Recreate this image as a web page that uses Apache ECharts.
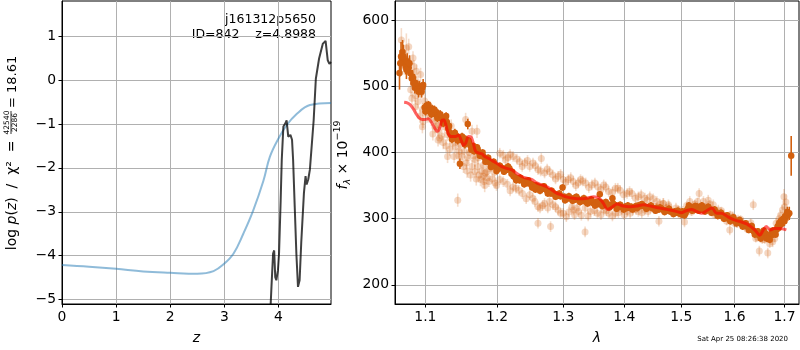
<!DOCTYPE html>
<html><head><meta charset="utf-8">
<script src="https://cdn.jsdelivr.net/npm/echarts@6/dist/echarts.min.js"></script>
<style>html,body{margin:0;padding:0;background:#fff}#c{width:800px;height:350px}</style>
</head><body><div id="c"></div>
<script>
// ---------- Left panel: redshift ----------
const zTicks = [0, 1, 2, 3, 4];
const logpTicks = [-5, -4, -3, -2, -1, 0, 1];
// [z, value] prior curve (blue)
const zPrior = [[0,-4.21],[0.5,-4.25],[1,-4.30],[1.5,-4.36],[2,-4.39],[2.5,-4.41],[2.8,-4.35],[3.0,-4.18],[3.17,-3.95],[3.35,-3.5],[3.53,-2.98],[3.72,-2.3],[3.84,-1.75],[4.0,-1.33],[4.15,-1.03],[4.33,-0.78],[4.58,-0.57],[4.97,-0.52]];
// [z, log p(z)] (dark)
const zLogp = [[3.83,-5.8],[3.87,-4.71],[3.90,-3.95],[3.92,-3.88],[3.94,-4.49],[3.96,-4.56],[3.99,-4.33],[4.01,-3.95],[4.04,-2.74],[4.06,-1.82],[4.09,-1.06],[4.13,-0.98],[4.15,-0.92],[4.18,-1.29],[4.22,-1.25],[4.25,-1.36],[4.27,-1.82],[4.30,-2.89],[4.33,-3.95],[4.36,-4.71],[4.39,-4.56],[4.42,-3.71],[4.47,-2.57],[4.50,-2.19],[4.52,-2.38],[4.55,-2.26],[4.58,-2.04],[4.61,-2.04],[4.65,-0.91],[4.69,0.03],[4.71,0.07],[4.75,0.49],[4.78,0.52],[4.82,0.83],[4.87,0.89],[4.91,0.45],[4.94,0.37],[4.97,0.41]];

// ---------- Right panel: spectrum ----------
const lamTicks = [1.1, 1.2, 1.3, 1.4, 1.5, 1.6, 1.7];
const fluxTicks = [200, 300, 400, 500, 600];
// [lambda, flux, err] main (dark) points
const darkSpec = [[1.066,520,25],[1.068,545,22],[1.070,552,18],[1.072,540,15],[1.074,532,14],[1.076,538,12],[1.078,528,12],[1.080,520,10],[1.082,512,10],[1.084,505,10],[1.086,498,9],[1.088,500,9],[1.090,496,8],[1.092,500,8],[1.094,497,8],[1.096,498,8],
[1.067,535,20],[1.071,545,18],[1.075,525,14],[1.079,535,12],[1.083,515,10],[1.087,505,10],[1.091,492,9],[1.095,492,9],[1.097,502,9],
[1.099,468,7],[1.101,470,7],[1.103,466,7],[1.105,464,7],[1.107,462,6],[1.109,466,6],[1.111,460,6],[1.113,458,6],[1.115,461,6],[1.117,456,6],[1.119,454,6],[1.121,452,6],[1.123,450,6],[1.125,448,6],[1.127,450,6],[1.129,446,6],[1.131,436,6],[1.133,430,6],[1.135,426,6],[1.137,425,6],[1.139,424,6],[1.141,426,6],[1.143,422,6],[1.145,423,6],[1.147,383,8],[1.149,420,6],[1.151,418,6],[1.153,416,6],[1.155,420,6],[1.158,443,8],[1.160,414,5],[1.162,410,5],[1.164,408,5],[1.166,410,5],[1.168,406,5],[1.170,404,5],[1.172,405,5],[1.174,400,5],[1.176,398,5],[1.178,396,5],[1.180,394,5],[1.182,392,5],[1.184,390,5],[1.186,388,5],[1.188,386,5],[1.190,384,5],[1.192,382,5],[1.194,380,5],[1.196,381,5],[1.198,378,5],[1.200,377,5],
[1.100,462,6],[1.104,472,6],[1.108,458,6],[1.112,465,6],[1.116,452,6],[1.120,458,6],[1.124,444,6],[1.128,455,6],[1.132,440,6],[1.136,420,6],[1.140,430,6],[1.144,418,6],[1.150,424,6],[1.154,412,6],[1.159,418,5],[1.163,404,5],[1.167,402,5],[1.171,408,5],[1.175,395,5],[1.179,400,5],[1.183,386,5],[1.187,392,5],[1.191,378,5],[1.195,386,5],[1.199,372,5],
[1.203,376,5],[1.206,377,5],[1.209,375,5],[1.212,376,5],[1.215,374,5],[1.218,376,5],[1.221,368,5],[1.224,364,5],[1.227,362,5],[1.230,360,5],[1.233,358,5],[1.236,359,5],[1.239,356,5],[1.242,357,5],[1.245,354,5],[1.248,353,5],[1.251,352,5],[1.254,350,5],[1.257,344,5],[1.260,346,5],[1.263,348,5],[1.266,345,5],[1.269,346,5],[1.272,345,5],[1.275,342,5],[1.278,340,5],[1.281,338,5],[1.284,339,5],[1.287,337,5],[1.290,336,5],[1.293,335,5],[1.296,334,5],[1.299,347,5],
[1.204,380,5],[1.210,371,5],[1.216,379,5],[1.222,371,5],[1.228,358,5],[1.234,362,5],[1.240,352,5],[1.246,358,5],[1.252,347,5],[1.258,350,5],[1.264,342,5],[1.270,349,5],[1.276,338,5],[1.282,342,5],[1.288,333,5],[1.294,338,5],
[1.302,333,5],[1.305,332,5],[1.308,331,5],[1.311,331,5],[1.314,330,5],[1.317,331,5],[1.320,329,5],[1.323,330,5],[1.326,328,5],[1.329,327,5],[1.332,328,5],[1.335,326,5],[1.338,327,5],[1.341,325,5],[1.344,326,5],[1.347,324,5],[1.350,323,5],[1.353,325,5],[1.356,322,5],[1.359,337,5],[1.362,324,5],[1.365,323,5],[1.368,322,5],[1.371,320,5],[1.374,321,5],[1.377,319,5],[1.380,331,5],[1.383,321,5],[1.386,320,5],[1.389,318,5],[1.392,319,5],[1.395,318,5],[1.398,317,5],
[1.303,328,5],[1.309,334,5],[1.315,327,5],[1.321,333,5],[1.327,325,5],[1.333,331,5],[1.339,323,5],[1.345,329,5],[1.351,320,5],[1.357,326,5],[1.363,319,5],[1.369,325,5],[1.375,317,5],[1.381,323,5],[1.387,315,5],[1.393,321,5],[1.399,314,5],
[1.401,318,5],[1.404,316,5],[1.408,317,5],[1.412,318,5],[1.416,316,5],[1.420,319,5],[1.424,320,5],[1.428,319,5],[1.432,320,5],[1.436,318,5],[1.440,317,5],[1.444,318,5],[1.448,316,5],[1.452,315,5],[1.456,316,5],[1.460,314,5],[1.464,315,5],[1.468,313,5],[1.472,312,5],[1.476,313,5],[1.480,311,5],[1.484,310,5],[1.488,311,5],[1.492,309,5],[1.496,308,5],
[1.406,320,5],[1.414,314,5],[1.422,316,5],[1.430,322,5],[1.438,315,5],[1.446,320,5],[1.454,312,5],[1.462,317,5],[1.470,310,5],[1.478,315,5],[1.486,307,5],[1.494,312,5],
[1.500,307,5],[1.503,306,5],[1.506,305,5],[1.509,312,5],[1.512,315,5],[1.515,316,5],[1.518,314,5],[1.521,317,5],[1.524,313,5],[1.527,315,5],[1.530,318,5],[1.533,316,5],[1.536,314,5],[1.539,317,5],[1.542,315,5],[1.545,316,5],[1.548,313,5],[1.551,315,5],[1.554,312,5],[1.557,313,5],[1.560,310,5],[1.563,311,5],[1.566,308,5],[1.569,307,5],[1.572,305,5],[1.575,306,5],[1.578,303,5],[1.581,304,5],[1.584,301,5],[1.587,302,5],[1.590,300,5],[1.593,299,5],[1.596,300,5],[1.599,298,5],
[1.502,311,5],[1.508,308,5],[1.514,320,5],[1.520,312,5],[1.526,319,5],[1.532,312,5],[1.538,320,5],[1.544,311,5],[1.550,318,5],[1.556,309,5],[1.562,314,5],[1.568,304,5],[1.574,309,5],[1.580,300,5],[1.586,305,5],[1.592,296,5],[1.598,302,5],
[1.602,297,5],[1.605,296,5],[1.608,294,5],[1.611,295,5],[1.614,292,5],[1.617,291,5],[1.620,290,5],[1.623,289,5],[1.626,288,5],[1.629,286,5],[1.632,285,5],[1.635,283,5],[1.638,281,5],[1.641,280,5],[1.644,277,5],[1.647,276,5],[1.650,274,5],[1.653,277,5],[1.656,276,5],[1.659,279,5],[1.662,277,5],[1.665,274,5],[1.668,272,5],[1.671,275,5],[1.674,278,5],[1.677,276,5],[1.680,280,5],[1.683,283,5],[1.686,288,6],[1.689,293,6],[1.692,296,6],[1.695,298,6],[1.698,300,7],[1.701,303,7],[1.704,306,8],[1.707,305,8],[1.710,308,10],[1.714,395,30],
[1.604,293,5],[1.610,298,5],[1.616,288,5],[1.622,293,5],[1.628,283,5],[1.634,289,5],[1.640,276,5],[1.646,281,5],[1.652,270,5],[1.658,282,5],[1.664,270,5],[1.670,268,5],[1.676,282,5],[1.682,276,5],[1.688,286,6],[1.694,292,6],[1.700,296,7],[1.706,310,8]];
// [lambda, flux, err] secondary (faint) points
const lightSpec = [[1.0684,570,18],[1.0749,558,22],[1.0700,548,12],[1.0760,540,12],[1.0836,543,10],[1.0822,513,10],[1.0806,495,10],[1.0822,482,10],[1.0868,486,10],[1.0880,523,10],[1.0900,477,10],[1.0936,518,10],[1.0870,469,10],[1.0930,455,10],[1.0960,465,10],[1.0970,447,10],[1.0960,439,10],[1.1013,465,10],[1.1080,450,10],[1.1125,439,10],[1.1170,434,10],[1.1190,422,10],[1.1170,419,10],[1.1260,439,10],[1.1300,427,10],[1.1300,394,10],[1.1370,414,10],[1.1390,394,10],[1.1410,409,10],[1.1460,402,10],[1.1500,394,10],[1.1520,379,10],[1.1550,450,10],[1.1560,384,10],[1.1580,392,10],[1.1440,328,10],[1.1640,379,10],[1.1640,432,10],[1.1680,389,10],[1.1680,371,10],[1.1720,379,10],[1.1740,366,10],[1.1710,432,10],[1.1760,359,10],[1.1800,364,10],[1.1810,356,10],[1.1800,381,8],[1.1830,369,8],[1.1850,371,8],[1.1880,356,8],[1.1900,376,8],[1.1970,354,8],
[1.072,530,12],[1.078,560,12],[1.085,530,10],[1.090,505,10],[1.094,490,10],[1.099,478,10],[1.103,455,10],[1.106,468,10],[1.110,428,10],[1.114,448,10],[1.118,442,10],[1.122,425,10],[1.124,415,10],[1.128,410,10],[1.133,405,10],[1.135,440,10],[1.142,420,10],[1.145,395,10],[1.148,412,10],[1.153,402,10],[1.157,372,10],[1.160,400,10],[1.162,366,10],[1.166,395,10],[1.170,360,10],[1.173,392,10],[1.178,372,10],[1.182,350,10],[1.186,362,10],[1.189,382,8],[1.193,360,8],[1.196,370,8],[1.199,350,8],
[1.2038,399,8],[1.2090,396,8],[1.2160,392,8],[1.2234,394,8],[1.2334,386,8],[1.2408,384,8],[1.2483,379,8],[1.2533,384,8],[1.2609,374,8],[1.2660,391,8],[1.2710,369,8],[1.2787,371,8],[1.2840,366,8],[1.2920,364,8],[1.3000,359,8],[1.3080,359,8],[1.3160,356,8],[1.3240,354,8],[1.3277,359,8],[1.3360,354,8],[1.3460,351,8],[1.3560,348,8],[1.3655,351,8],[1.3737,341,8],[1.3850,346,8],[1.3930,343,8],[1.4047,338,8],[1.4130,338,8],[1.4240,333,8],[1.4355,331,8],[1.4440,333,8],[1.4565,326,8],[1.4680,323,8],[1.4770,321,8],
[1.212,389,8],[1.219,397,8],[1.229,390,8],[1.237,379,8],[1.245,388,8],[1.257,380,8],[1.265,372,8],[1.275,375,8],[1.288,360,8],[1.296,367,8],[1.304,355,8],[1.312,362,8],[1.320,350,8],[1.331,357,8],[1.341,347,8],[1.351,354,8],[1.361,344,8],[1.369,348,8],[1.380,340,8],[1.389,346,8],[1.399,336,8],[1.409,341,8],[1.419,331,8],[1.429,336,8],[1.439,328,8],[1.450,330,8],[1.462,322,8],
[1.2038,359,8],[1.2090,356,8],[1.2234,348,8],[1.2275,346,8],[1.2373,338,8],[1.2483,336,8],[1.2533,331,8],[1.2609,318,8],[1.2640,316,8],[1.2710,323,8],[1.2787,326,8],[1.2840,321,8],[1.2920,313,8],[1.3000,308,8],[1.3050,303,8],[1.3140,318,8],[1.3160,313,8],[1.3220,316,8],[1.3245,311,8],[1.3350,316,8],[1.3435,311,8],[1.3550,308,8],[1.3655,313,8],[1.3737,308,8],[1.3850,308,8],[1.3960,313,8],[1.4047,311,8],[1.4145,313,8],[1.4240,311,8],[1.4355,313,8],[1.4450,316,8],
[1.215,352,8],[1.219,342,8],[1.232,343,8],[1.243,330,8],[1.256,326,8],[1.268,320,8],[1.276,316,8],[1.288,318,8],[1.296,308,8],[1.309,310,8],[1.318,306,8],[1.329,305,8],[1.340,304,8],[1.350,312,8],[1.361,306,8],[1.370,312,8],[1.380,304,8],[1.390,309,8],[1.400,306,8],[1.410,308,8],[1.420,314,8],[1.430,309,8],[1.441,311,8],
[1.2609,293,8],[1.2803,288,8],[1.3350,280,8],[1.4600,296,8],
[1.4677,323,8],[1.4780,318,8],[1.4905,316,8],[1.5030,311,8],[1.5060,295,8],[1.5157,326,8],[1.5220,318,8],[1.5330,338,8],[1.5410,326,8],[1.5500,328,8],[1.5595,321,8],[1.5690,313,8],[1.5780,306,8],[1.5875,301,8],[1.5910,283,8],[1.5970,303,8],[1.6070,298,8],[1.6170,293,8],[1.6270,288,8],[1.6370,321,8],[1.6400,280,8],[1.6500,276,8],[1.6490,251,8],[1.6660,248,8],[1.6630,273,8],[1.6700,280,8],[1.6760,276,8],[1.6760,265,8],[1.6830,293,8],[1.6850,286,8],[1.6890,300,8],[1.6960,313,8],[1.6990,333,12],[1.7060,307,8],
[1.455,318,6],[1.485,309,6],[1.495,314,6],[1.525,322,6],[1.545,318,6],[1.565,310,6],[1.585,296,6],[1.605,292,6],[1.625,284,6],[1.645,272,6],[1.660,268,6],
[1.473,316,6],[1.499,305,6],[1.510,320,6],[1.519,310,6],[1.530,326,6],[1.538,316,6],[1.553,322,6],[1.562,306,6],[1.575,312,6],[1.592,306,6],[1.600,293,6],[1.612,299,6],[1.620,288,6],[1.632,294,6],[1.642,270,6],[1.655,268,6],[1.670,262,6],[1.680,270,6],[1.692,305,8],[1.700,318,10],[1.703,325,12]];
// [lambda, flux] model (red)
const modelSpec = [[1.072,476],[1.076,475],[1.080,472],[1.084,466],[1.088,458],[1.092,452],[1.096,450],[1.100,450],[1.104,451],[1.108,446],[1.112,438],[1.116,432],[1.119,436],[1.122,448],[1.125,449],[1.128,440],[1.131,428],[1.135,424],[1.140,424],[1.145,426],[1.149,418],[1.152,411],[1.155,414],[1.159,424],[1.163,423],[1.166,413],[1.169,402],[1.174,399],[1.178,398],[1.182,394],[1.188,391],[1.194,387],[1.199,384],[1.206,379],[1.214,376],[1.221,374],[1.228,369],[1.236,364],[1.244,361],[1.252,359],[1.259,354],[1.267,351],[1.275,348],[1.283,343],[1.289,339],[1.297,336],[1.305,333],[1.316,331],[1.327,330],[1.338,331],[1.349,333],[1.358,331],[1.365,323],[1.372,314],[1.380,318],[1.388,322],[1.398,319],[1.410,318],[1.421,319],[1.433,321],[1.445,319],[1.456,317],[1.468,315],[1.480,313],[1.491,311],[1.500,309],[1.509,312],[1.519,314],[1.528,311],[1.538,308],[1.547,312],[1.557,316],[1.566,308],[1.575,308],[1.585,304],[1.594,300],[1.604,297],[1.614,295],[1.624,292],[1.632,288],[1.640,283],[1.650,275],[1.657,283],[1.663,288],[1.671,283],[1.679,285],[1.690,285],[1.704,283]];

const FONT = 'DejaVu Sans';
const DARK = '#d2600f';
const minus = v => String(v).replace('-', '\u2212');
const ln = Math.log;

function axisCommon(custom, fmt) {
  return {
    axisLine: {show: true, onZero: false, lineStyle: {color: '#000', width: 1}},
    axisTick: {show: true, inside: false, length: 3.5, customValues: custom, lineStyle: {color: '#000', width: 1}},
    axisLabel: {customValues: custom, formatter: fmt, color: '#000', fontSize: 13.9, fontFamily: FONT, margin: 6},
    splitLine: {show: true, lineStyle: {color: '#b0b0b0', width: 1}}
  };
}

function errSeries(data, color, opacity, z) {
  return {
    type: 'custom', xAxisIndex: 1, yAxisIndex: 1, z: z, silent: true, clip: true,
    data: data.map(d => [ln(d[0]), d[1] - d[2], d[1] + d[2]]),
    encode: {x: 0, y: [1, 2]},
    renderItem: (params, api) => {
      const a = api.coord([api.value(0), api.value(1)]);
      const b = api.coord([api.value(0), api.value(2)]);
      return {type: 'line', shape: {x1: a[0], y1: a[1], x2: b[0], y2: b[1]},
        style: {stroke: color, lineWidth: 1.6, opacity: opacity}};
    }
  };
}

const chart = echarts.init(document.getElementById('c'), null, {renderer: 'canvas'});
chart.setOption({
  animation: false,
  backgroundColor: '#fff',
  grid: [
    {left: 62, top: 1, right: 469, bottom: 46, show: true, borderColor: '#000', borderWidth: 1, backgroundColor: 'transparent'},
    {left: 395, top: 1, right: 1, bottom: 46, show: true, borderColor: '#000', borderWidth: 1, backgroundColor: 'transparent'}
  ],
  xAxis: [
    Object.assign({type: 'value', gridIndex: 0, min: 0, max: 4.97,
      name: 'z', nameLocation: 'middle', nameGap: 27,
      nameTextStyle: {fontStyle: 'italic', fontSize: 14, fontFamily: FONT, color: '#000'}},
      axisCommon(zTicks, v => minus(v))),
    Object.assign({type: 'value', gridIndex: 1, min: ln(1.0602), max: ln(1.7303),
      name: 'λ', nameLocation: 'middle', nameGap: 27,
      nameTextStyle: {fontStyle: 'italic', fontSize: 14, fontFamily: FONT, color: '#000'}},
      axisCommon(lamTicks.map(ln), v => Math.exp(v).toFixed(1)))
  ],
  yAxis: [
    Object.assign({type: 'value', gridIndex: 0, min: -5.1, max: 1.8},
      axisCommon(logpTicks, v => minus(Math.round(v)))),
    Object.assign({type: 'value', gridIndex: 1, min: 171, max: 629},
      axisCommon(fluxTicks, v => minus(Math.round(v))))
  ],
  series: [
    {type: 'line', xAxisIndex: 0, yAxisIndex: 0, data: zPrior, smooth: 0.4, showSymbol: false,
      lineStyle: {color: '#1f77b4', opacity: 0.5, width: 2}, z: 3},
    {type: 'line', xAxisIndex: 0, yAxisIndex: 0, data: zLogp, smooth: false, showSymbol: false,
      lineStyle: {color: '#000', opacity: 0.75, width: 2}, z: 4},
    errSeries(lightSpec, DARK, 0.22, 2),
    {type: 'scatter', xAxisIndex: 1, yAxisIndex: 1, data: lightSpec.map(d => [ln(d[0]), d[1]]),
      symbol: 'circle', symbolSize: 7, itemStyle: {color: DARK, opacity: 0.25}, z: 3, silent: true},
    errSeries(darkSpec, DARK, 1, 4),
    {type: 'scatter', xAxisIndex: 1, yAxisIndex: 1, data: darkSpec.map(d => [ln(d[0]), d[1]]),
      symbol: 'circle', symbolSize: 6.5, itemStyle: {color: DARK, opacity: 1}, z: 5, silent: true},
    {type: 'line', xAxisIndex: 1, yAxisIndex: 1, data: modelSpec.map(d => [ln(d[0]), d[1]]), smooth: 0.3, showSymbol: false,
      lineStyle: {color: '#ff0000', opacity: 0.6, width: 3}, z: 6}
  ],
  graphic: [
    {type: 'text', x: 316, y: 20, style: {text: 'j161312p5650', font: '12.5px "DejaVu Sans"', fill: '#000', align: 'right', verticalAlign: 'middle'}},
    {type: 'text', x: 316, y: 35, style: {text: 'ID=842    z=4.8988', font: '12.5px "DejaVu Sans"', fill: '#000', align: 'right', verticalAlign: 'middle'}},
    // rotated left y-axis title
    {type: 'text', x: 12.5, y: 136, rotation: Math.PI / 2, style: {text: '{n|log }{i|p}{n|(}{i|z}{n|)  /  χ²  = }', align: 'right', verticalAlign: 'middle',
      rich: {n: {fontSize: 14, fontFamily: FONT, fill: '#000'}, i: {fontSize: 14, fontFamily: FONT, fontStyle: 'italic', fill: '#000'}}}},
    {type: 'text', x: 7.5, y: 122.5, rotation: Math.PI / 2, style: {text: '42540', font: '7.5px "DejaVu Sans"', fill: '#000', align: 'center', verticalAlign: 'middle'}},
    {type: 'line', shape: {x1: 11, y1: 111, x2: 11, y2: 134}, style: {stroke: '#000', lineWidth: 0.8}},
    {type: 'text', x: 15, y: 122.5, rotation: Math.PI / 2, style: {text: '2286', font: '7.5px "DejaVu Sans"', fill: '#000', align: 'center', verticalAlign: 'middle'}},
    {type: 'text', x: 12.5, y: 108, rotation: Math.PI / 2, style: {text: '= 18.61', font: '13px "DejaVu Sans"', fill: '#000', align: 'left', verticalAlign: 'middle'}},
    // rotated right y-axis title
    {type: 'text', x: 343, y: 155, rotation: Math.PI / 2, style: {text: '{i|f}{s|λ}{n| × 10}{p|−19}', align: 'center', verticalAlign: 'middle',
      rich: {i: {fontSize: 14, fontFamily: FONT, fontStyle: 'italic', fill: '#000', lineHeight: 20, verticalAlign: 'middle'},
             s: {fontSize: 9.5, fontFamily: FONT, fontStyle: 'italic', fill: '#000', lineHeight: 20, verticalAlign: 'bottom'},
             n: {fontSize: 14, fontFamily: FONT, fill: '#000', lineHeight: 20, verticalAlign: 'middle'},
             p: {fontSize: 9.5, fontFamily: FONT, fill: '#000', lineHeight: 20, verticalAlign: 'top'}}}},
    {type: 'text', x: 788, y: 339, style: {text: 'Sat Apr 25 08:26:38 2020', font: '7px "DejaVu Sans"', fill: '#000', align: 'right', verticalAlign: 'middle'}}
  ]
});
</script>
</body></html>
